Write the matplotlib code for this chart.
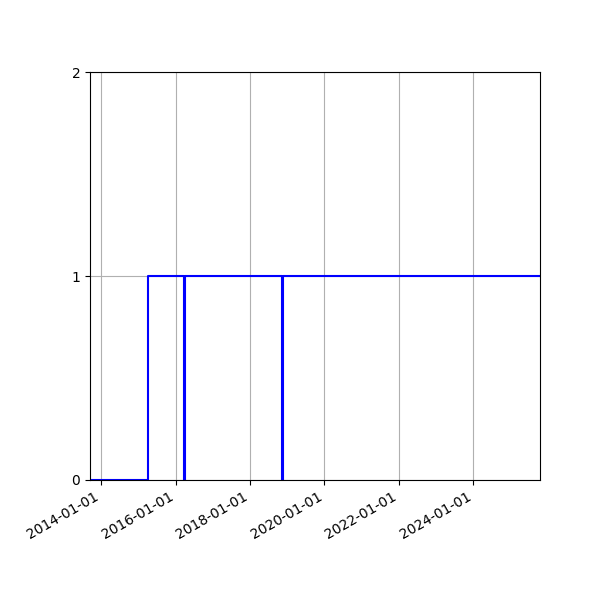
import matplotlib
matplotlib.use("Agg")
import matplotlib.pyplot as plt
import matplotlib.dates as mdates
from datetime import datetime

# state changes (value holds until next date)
dates = [
    datetime(2013, 9, 14),
    datetime(2015, 4, 8),
    datetime(2016, 3, 24),
    datetime(2016, 3, 31),
    datetime(2018, 11, 13),
    datetime(2018, 11, 20),
    datetime(2025, 10, 16),
]
values = [0, 1, 0, 1, 0, 1, 1]

fig, ax = plt.subplots(figsize=(6, 6), dpi=100)
ax.step(dates, values, where='post', color='blue', linewidth=1.5)

ax.set_xlim(dates[0], dates[-1])
ax.set_ylim(0, 2)
ax.set_yticks([0, 1, 2])
ax.xaxis.set_major_locator(mdates.YearLocator(2))
ax.xaxis.set_major_formatter(mdates.DateFormatter('%Y-%m-%d'))
ax.grid(True)

fig.autofmt_xdate()
fig.subplots_adjust(left=0.15, right=0.9, top=0.88, bottom=0.2)
fig.savefig("out.png")
